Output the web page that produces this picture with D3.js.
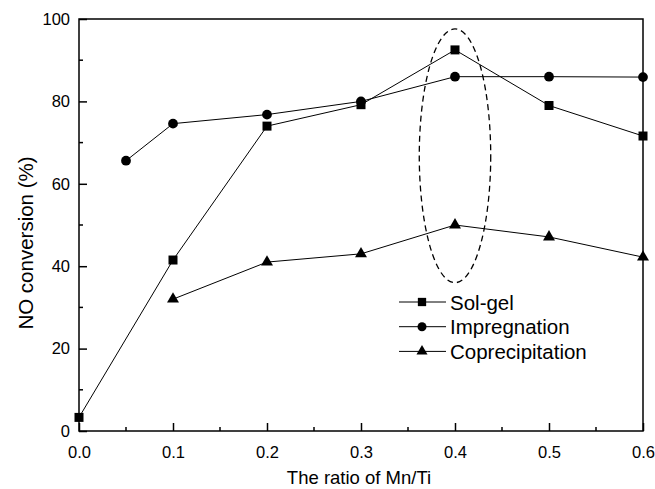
<!DOCTYPE html>
<html>
<head>
<meta charset="utf-8">
<script src="https://cdn.jsdelivr.net/npm/d3@7"></script>
<style>
  body { margin:0; background:#fff; }
  text { font-family: "Liberation Sans", Arial, sans-serif; fill:#000; }
</style>
</head>
<body>
<svg id="chart" width="655" height="489"></svg>
<script>
var solGelX = [0.0, 0.1, 0.2, 0.3, 0.4, 0.5, 0.6]
  , solGelY = [3.3, 41.5, 74.0, 79.2, 92.5, 79.0, 71.6]
  , impregX = [0.05, 0.1, 0.2, 0.3, 0.4, 0.5, 0.6]
  , impregY = [65.6, 74.6, 76.8, 80.0, 86.0, 86.0, 85.9]
  , coprecX = [0.1, 0.2, 0.3, 0.4, 0.5, 0.6]
  , coprecY = [32.0, 41.0, 43.0, 50.0, 47.1, 42.2]
  , xTicks = [0, 0.1, 0.2, 0.3, 0.4, 0.5, 0.6]
  , yTicks = [0, 20, 40, 60, 80, 100]
  , seriesNames = ['Sol-gel', 'Impregnation', 'Coprecipitation']
  , seriesSymbols = [d3.symbolSquare, d3.symbolCircle, d3.symbolTriangle]
  , ellipse = { x: 0.4, y: 66.8, rx: 0.038, ry: 30.8 }

var margin = { left: 79, top: 19, right: 643, bottom: 431 }
var svg = d3.select('#chart')

var x = d3.scaleLinear().domain([0, 0.6]).range([margin.left, margin.right])
var y = d3.scaleLinear().domain([0, 100]).range([margin.bottom, margin.top])

// frame
svg.append('rect')
  .attr('x', margin.left).attr('y', margin.top)
  .attr('width', margin.right - margin.left).attr('height', margin.bottom - margin.top)
  .attr('fill', 'none').attr('stroke', '#000').attr('stroke-width', 1.5)

// axes, ticks pointing inward
var xAxis = svg.append('g').attr('transform', 'translate(0,' + margin.bottom + ')')
  .call(d3.axisBottom(x).tickValues(xTicks).tickSize(-8).tickPadding(15).tickFormat(d3.format('.1f')))
var yAxis = svg.append('g').attr('transform', 'translate(' + margin.left + ',0)')
  .call(d3.axisLeft(y).tickValues(yTicks).tickSize(-8).tickPadding(9))

;[xAxis, yAxis].forEach(function(a) {
  a.select('.domain').remove()
  a.selectAll('line').attr('stroke', '#000').attr('stroke-width', 1.5)
  a.selectAll('text').style('font-size', '16.5px').style('font-family', '"Liberation Sans", Arial, sans-serif')
})

// minor ticks
var xMinor = d3.range(0.05, 0.6, 0.1)
var yMinor = d3.range(10, 100, 20)
svg.append('g').selectAll('line').data(xMinor).enter().append('line')
  .attr('x1', function(d) { return x(d) }).attr('x2', function(d) { return x(d) })
  .attr('y1', margin.bottom).attr('y2', margin.bottom - 4)
  .attr('stroke', '#000').attr('stroke-width', 1.5)
svg.append('g').selectAll('line').data(yMinor).enter().append('line')
  .attr('y1', function(d) { return y(d) }).attr('y2', function(d) { return y(d) })
  .attr('x1', margin.left).attr('x2', margin.left + 4)
  .attr('stroke', '#000').attr('stroke-width', 1.5)

// axis titles
svg.append('text')
  .attr('x', 359).attr('y', 484)
  .attr('text-anchor', 'middle').style('font-size', '18.5px')
  .text('The ratio of Mn/Ti')
svg.append('text')
  .attr('transform', 'translate(33,243) rotate(-90)')
  .attr('text-anchor', 'middle').style('font-size', '20.5px')
  .text('NO conversion (%)')

// dashed ellipse
svg.append('ellipse')
  .attr('cx', x(ellipse.x)).attr('cy', y(ellipse.y))
  .attr('rx', x(ellipse.rx) - x(0)).attr('ry', y(0) - y(ellipse.ry))
  .attr('fill', 'none').attr('stroke', '#000').attr('stroke-width', 1.3)
  .attr('stroke-dasharray', '6,4')

var series = [
  { xs: solGelX, ys: solGelY },
  { xs: impregX, ys: impregY },
  { xs: coprecX, ys: coprecY }
]
var symbolSizes = [81, 75, 62]
var line = d3.line().x(function(d) { return x(d[0]) }).y(function(d) { return y(d[1]) })

series.forEach(function(s, i) {
  var pts = s.xs.map(function(v, j) { return [v, s.ys[j]] })
  svg.append('path').datum(pts)
    .attr('d', line).attr('fill', 'none').attr('stroke', '#000').attr('stroke-width', 1)
  svg.append('g').selectAll('path').data(pts).enter().append('path')
    .attr('transform', function(d) { return 'translate(' + x(d[0]) + ',' + y(d[1]) + ')' })
    .attr('d', d3.symbol().type(seriesSymbols[i]).size(symbolSizes[i]))
    .attr('fill', '#000')
})

// legend
var legend = svg.append('g')
seriesNames.forEach(function(name, i) {
  var ly = 302 + i * 24.7
  legend.append('line').attr('x1', 399).attr('x2', 446).attr('y1', ly).attr('y2', ly)
    .attr('stroke', '#000').attr('stroke-width', 1)
  legend.append('path')
    .attr('transform', 'translate(' + 422 + ',' + ly + ')')
    .attr('d', d3.symbol().type(seriesSymbols[i]).size(symbolSizes[i] * 0.85))
    .attr('fill', '#000')
  legend.append('text').attr('x', 450).attr('y', ly + 7.5)
    .style('font-size', '20.5px').text(name)
})
</script>
</body>
</html>
